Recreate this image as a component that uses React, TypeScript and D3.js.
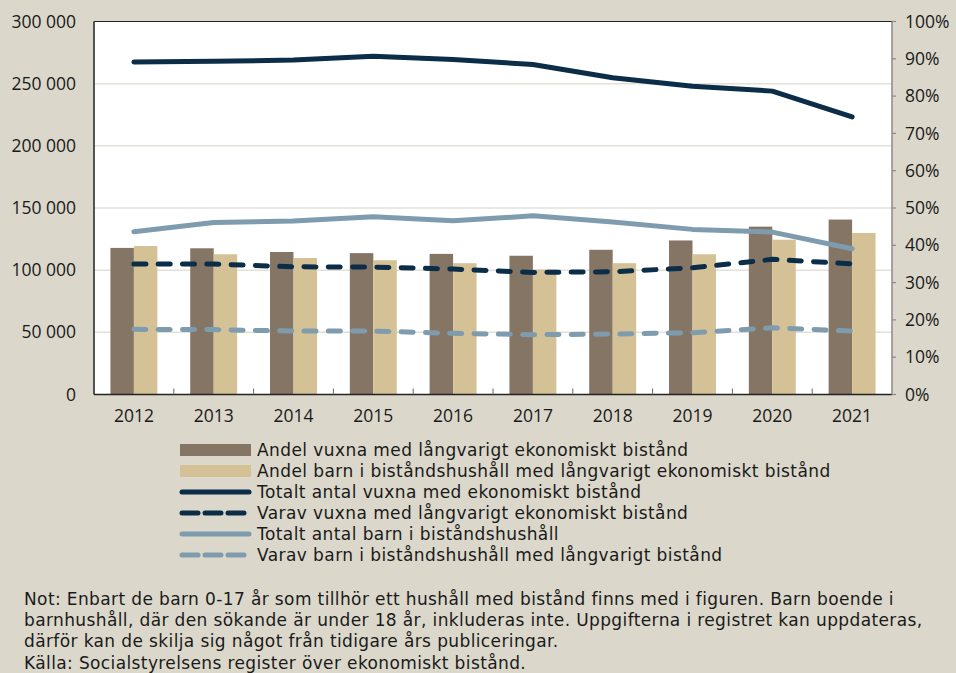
import React from 'react';
import * as d3 from 'd3';

const years = ['2012', '2013', '2014', '2015', '2016', '2017', '2018', '2019', '2020', '2021'];

// bars, right axis (%)
const andelVuxna = [39.3, 39.2, 38.2, 37.9, 37.7, 37.2, 38.8, 41.3, 45.0, 46.9];
const andelBarn = [39.8, 37.6, 36.6, 36.0, 35.2, 33.5, 35.2, 37.6, 41.5, 43.3];

// lines, left axis (antal)
const totaltVuxna = [267500, 268000, 269000, 272100, 269400, 265400, 254700, 248000, 244000, 223300];
const varavVuxna = [104900, 104900, 102700, 102500, 100900, 98200, 98700, 101900, 108700, 105100];
const totaltBarn = [130900, 138400, 139500, 142900, 139700, 143700, 138700, 132800, 130600, 117200];
const varavBarn = [52400, 52200, 51000, 51000, 49200, 48100, 48600, 49700, 53700, 51000];

const leftTicks = [0, 50000, 100000, 150000, 200000, 250000, 300000];
const rightTicks = [0, 10, 20, 30, 40, 50, 60, 70, 80, 90, 100];

const legendItems = [
  { label: 'Andel vuxna med långvarigt ekonomiskt bistånd', kind: 'bar', color: '#857565' },
  { label: 'Andel barn i biståndshushåll med långvarigt ekonomiskt bistånd', kind: 'bar', color: '#d4c196' },
  { label: 'Totalt antal vuxna med ekonomiskt bistånd', kind: 'line', color: '#0b2d48' },
  { label: 'Varav vuxna med långvarigt ekonomiskt bistånd', kind: 'dash', color: '#0b2d48' },
  { label: 'Totalt antal barn i biståndshushåll', kind: 'line', color: '#7f9caf' },
  { label: 'Varav barn i biståndshushåll med långvarigt bistånd', kind: 'dash', color: '#7f9caf' },
];

const noteLines = [
  'Not: Enbart de barn 0-17 år som tillhör ett hushåll med bistånd finns med i figuren. Barn boende i',
  'barnhushåll, där den sökande är under 18 år, inkluderas inte. Uppgifterna i registret kan uppdateras,',
  'därför kan de skilja sig något från tidigare års publiceringar.',
  'Källa: Socialstyrelsens register över ekonomiskt bistånd.',
];

const W = 956;
const H = 673;
const plot = { left: 94, right: 892, top: 21.5, bottom: 394.5 };
const FONT = "'Open Sans', sans-serif";
const TEXT_FONT = "'DejaVu Sans', sans-serif";

const fmt = (v: number) => d3.format(',')(v).replace(/,/g, ' ');

export default function App() {
  const x = d3.scaleBand<string>().domain(years).range([plot.left, plot.right]);
  const x1 = d3
    .scaleBand<string>()
    .domain(['vuxna', 'barn'])
    .range([0, x.bandwidth()])
    .paddingInner(0)
    .paddingOuter(0.7);
  const yL = d3.scaleLinear().domain([0, 300000]).range([plot.bottom, plot.top]);
  const yR = d3.scaleLinear().domain([0, 100]).range([plot.bottom, plot.top]);
  const cx = (y: string) => (x(y) ?? 0) + x.bandwidth() / 2;

  const line = d3
    .line<number>()
    .x((_, i) => cx(years[i]))
    .y((d) => yL(d));

  const series = [
    { data: totaltVuxna, color: '#0b2d48', dash: false },
    { data: totaltBarn, color: '#7f9caf', dash: false },
    { data: varavVuxna, color: '#0b2d48', dash: true },
    { data: varavBarn, color: '#7f9caf', dash: true },
  ];

  return (
    <svg
      width={W}
      height={H}
      style={{ position: 'absolute', left: 0, top: 0, background: '#dbd8cb' }}
      fontFamily={FONT}
    >
      <rect x={0} y={0} width={W} height={H} fill="#dbd8cb" />
      <rect
        x={plot.left}
        y={plot.top}
        width={plot.right - plot.left}
        height={plot.bottom - plot.top}
        fill="#fff"
      />
      {/* gridlines */}
      {leftTicks.slice(1, -1).map((t) => (
        <line
          key={t}
          x1={plot.left}
          x2={plot.right}
          y1={yL(t)}
          y2={yL(t)}
          stroke="#e3e0d8"
          strokeWidth={1.5}
        />
      ))}
      {/* bars */}
      {years.map((yr, i) => (
        <g key={yr} transform={`translate(${x(yr)},0)`}>
          <rect
            x={x1('vuxna')}
            y={yR(andelVuxna[i])}
            width={x1.bandwidth()}
            height={plot.bottom - yR(andelVuxna[i])}
            fill="#857565"
          />
          <rect
            x={x1('barn')}
            y={yR(andelBarn[i])}
            width={x1.bandwidth()}
            height={plot.bottom - yR(andelBarn[i])}
            fill="#d4c196"
          />
        </g>
      ))}
      {/* lines */}
      {series.map((s, i) => (
        <path
          key={i}
          d={line(s.data) ?? ''}
          fill="none"
          stroke={s.color}
          strokeWidth={5}
          strokeLinecap="round"
          strokeLinejoin="round"
          strokeDasharray={s.dash ? '12 12.3' : undefined}
        />
      ))}
      {/* axes */}
      <line x1={plot.left} x2={plot.right} y1={plot.top} y2={plot.top} stroke="#222" strokeWidth={1.2} />
      <line x1={plot.left} x2={plot.left} y1={plot.top} y2={plot.bottom} stroke="#222" strokeWidth={1.5} />
      <line x1={plot.left} x2={plot.right} y1={plot.bottom} y2={plot.bottom} stroke="#222" strokeWidth={1.5} />
      <line x1={plot.right} x2={plot.right} y1={plot.top} y2={plot.bottom} stroke="#8a8a8a" strokeWidth={1.5} />
      {years.slice(1).map((yr) => (
        <line
          key={yr}
          x1={x(yr)}
          x2={x(yr)}
          y1={plot.bottom}
          y2={plot.bottom - 6}
          stroke="#666"
          strokeWidth={1}
        />
      ))}
      {rightTicks.map((t) => (
        <line key={t} x1={plot.right} x2={plot.right + 4} y1={yR(t)} y2={yR(t)} stroke="#8a8a8a" strokeWidth={1.2} />
      ))}
      {leftTicks.map((t) => (
        <text key={t} x={76} y={yL(t)} dy="0.35em" textAnchor="end" fontSize={17.5} fill="#1a1a1a">
          {fmt(t)}
        </text>
      ))}
      {rightTicks.map((t) => (
        <text key={t} x={905} y={yR(t)} dy="0.35em" textAnchor="start" fontSize={17.5} fill="#1a1a1a">
          {t}%
        </text>
      ))}
      {years.map((yr) => (
        <text key={yr} x={cx(yr)} y={422} textAnchor="middle" fontSize={17.5} fill="#1a1a1a">
          {yr}
        </text>
      ))}
      {/* legend */}
      {legendItems.map((it, i) => {
        const cy = 450 + i * 21;
        return (
          <g key={it.label}>
            {it.kind === 'bar' ? (
              <rect x={180} y={cy - 6} width={71} height={12} fill={it.color} />
            ) : (
              <line
                x1={182}
                x2={it.kind === 'dash' ? 245 : 249}
                y1={cy}
                y2={cy}
                stroke={it.color}
                strokeWidth={5}
                strokeLinecap="round"
                strokeDasharray={it.kind === 'dash' ? '16 7' : undefined}
              />
            )}
            <text
              x={257}
              y={cy}
              dy="0.36em"
              fontFamily={TEXT_FONT}
              fontSize={17}
              letterSpacing={0.42}
              fill="#1a1a1a"
            >
              {it.label}
            </text>
          </g>
        );
      })}
      {/* note */}
      {noteLines.map((l, i) => (
        <text
          key={i}
          x={24}
          y={605 + i * 21.2}
          fontFamily={TEXT_FONT}
          fontSize={17}
          letterSpacing={0.38}
          fill="#1a1a1a"
        >
          {l}
        </text>
      ))}
    </svg>
  );
}
